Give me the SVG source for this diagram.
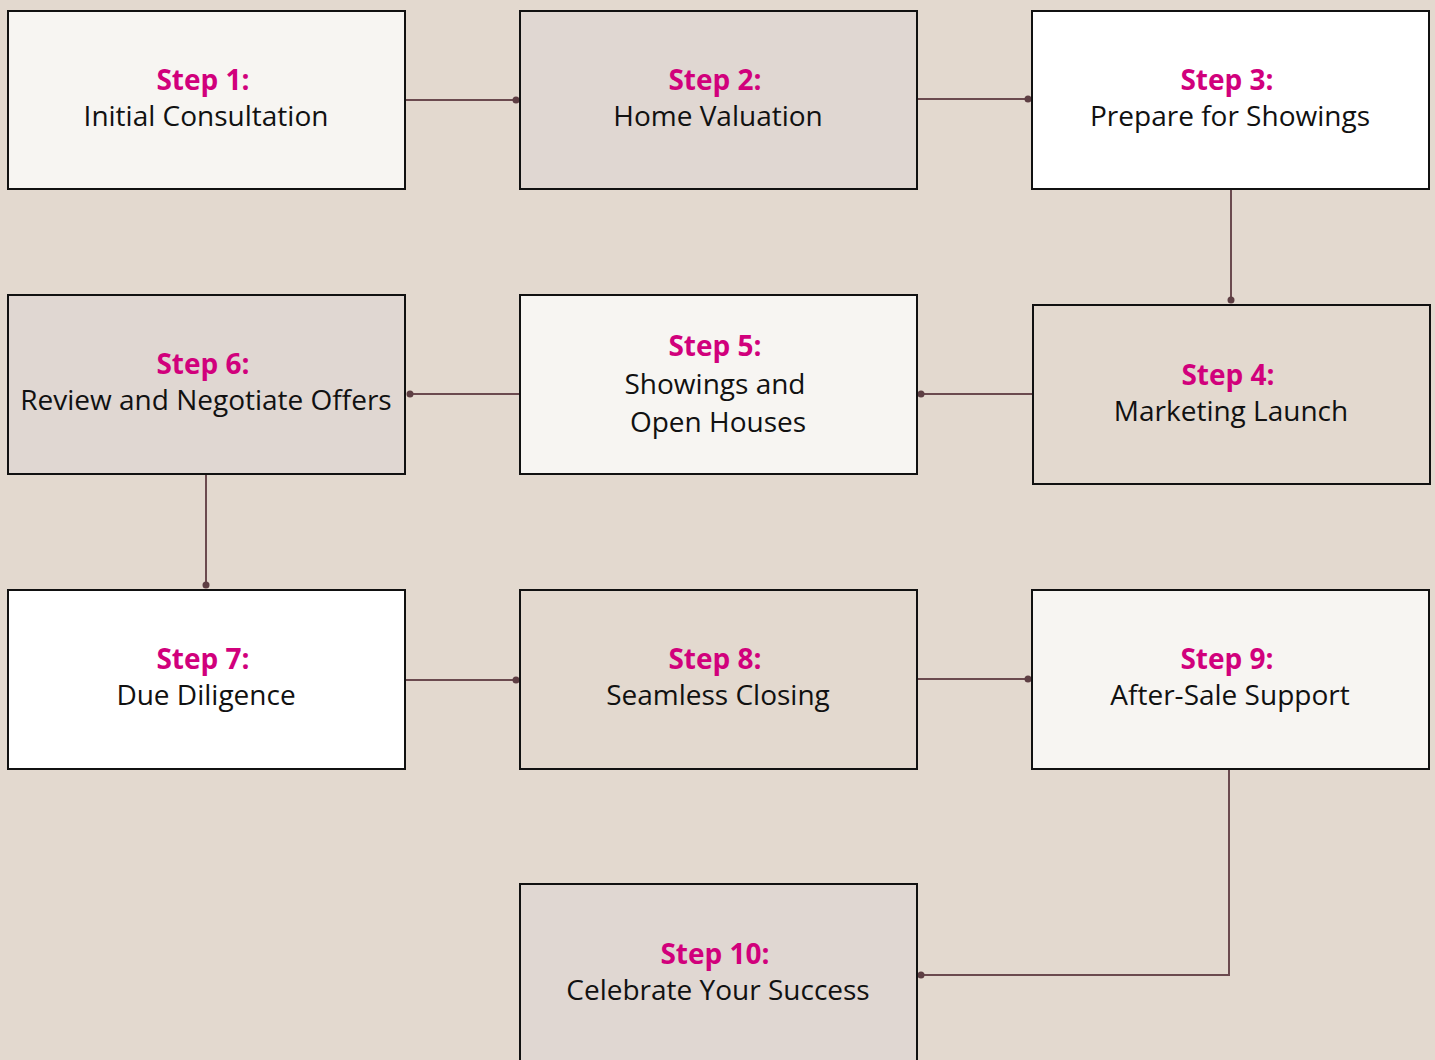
<svg xmlns="http://www.w3.org/2000/svg" width="1435" height="1060" viewBox="0 0 1435 1060">
<style>
.box{stroke:#111;stroke-width:2}
.t{font-family:"Open Sans","Noto Sans","Liberation Sans",sans-serif;font-size:28px;text-anchor:middle}
.h{fill:#d1007c;font-weight:bold}
.b{fill:#111}
.c{fill:none;stroke:#6b4a4f;stroke-width:2}
.d{fill:#5e3f44}
</style>
<rect width="1435" height="1060" fill="#e3d9cf"/>
<g id="connectors">
<path class="c" d="M406 100H516"/><circle class="d" cx="516" cy="100" r="3.5"/>
<path class="c" d="M918 99H1028"/><circle class="d" cx="1028" cy="99" r="3.5"/>
<path class="c" d="M1231 190V300"/><circle class="d" cx="1231" cy="300" r="3.5"/>
<path class="c" d="M1032 394H921"/><circle class="d" cx="921" cy="394" r="3.5"/>
<path class="c" d="M519 394H410"/><circle class="d" cx="410" cy="394" r="3.5"/>
<path class="c" d="M206 475V585"/><circle class="d" cx="206" cy="585" r="3.5"/>
<path class="c" d="M406 680H516"/><circle class="d" cx="516" cy="680" r="3.5"/>
<path class="c" d="M918 679H1028"/><circle class="d" cx="1028" cy="679" r="3.5"/>
<path class="c" d="M1229 770V975H921"/><circle class="d" cx="921" cy="975" r="3.5"/>
</g>
<g id="step1"><rect class="box" x="8" y="11" width="397" height="178" fill="#f7f5f2"/>
<text class="t h" x="203" y="90">Step 1:</text><text class="t b" x="206" y="126">Initial Consultation</text></g>
<g id="step2"><rect class="box" x="520" y="11" width="397" height="178" fill="#e0d7d2"/>
<text class="t h" x="715" y="90">Step 2:</text><text class="t b" x="718" y="126">Home Valuation</text></g>
<g id="step3"><rect class="box" x="1032" y="11" width="397" height="178" fill="#ffffff"/>
<text class="t h" x="1227" y="90">Step 3:</text><text class="t b" x="1230" y="126">Prepare for Showings</text></g>
<g id="step4"><rect class="box" x="1033" y="305" width="397" height="179" fill="#e3d9cf"/>
<text class="t h" x="1228" y="385">Step 4:</text><text class="t b" x="1231" y="421">Marketing Launch</text></g>
<g id="step5"><rect class="box" x="520" y="295" width="397" height="179" fill="#f7f5f2"/>
<text class="t h" x="715" y="356">Step 5:</text><text class="t b" x="715" y="394">Showings and</text><text class="t b" x="718" y="432">Open Houses</text></g>
<g id="step6"><rect class="box" x="8" y="295" width="397" height="179" fill="#e0d7d2"/>
<text class="t h" x="203" y="374">Step 6:</text><text class="t b" x="206" y="410">Review and Negotiate Offers</text></g>
<g id="step7"><rect class="box" x="8" y="590" width="397" height="179" fill="#ffffff"/>
<text class="t h" x="203" y="669">Step 7:</text><text class="t b" x="206" y="705">Due Diligence</text></g>
<g id="step8"><rect class="box" x="520" y="590" width="397" height="179" fill="#e3d9cf"/>
<text class="t h" x="715" y="669">Step 8:</text><text class="t b" x="718" y="705">Seamless Closing</text></g>
<g id="step9"><rect class="box" x="1032" y="590" width="397" height="179" fill="#f7f5f2"/>
<text class="t h" x="1227" y="669">Step 9:</text><text class="t b" x="1230" y="705">After-Sale Support</text></g>
<g id="step10"><rect class="box" x="520" y="884" width="397" height="190" fill="#e0d7d2"/>
<text class="t h" x="715" y="964">Step 10:</text><text class="t b" x="718" y="1000">Celebrate Your Success</text></g>
</svg>
